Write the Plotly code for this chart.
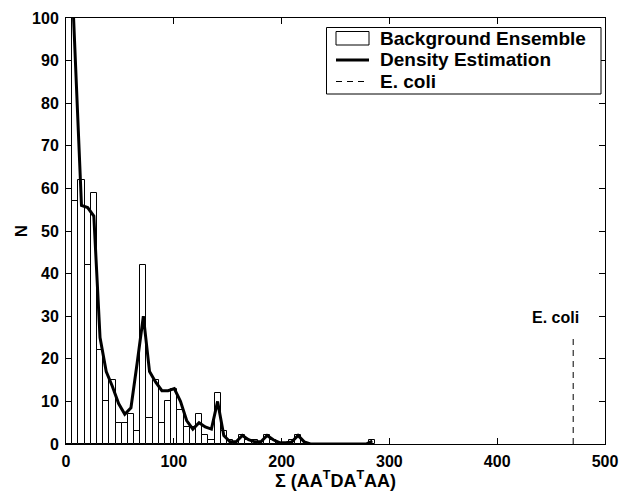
import plotly.graph_objects as go

# ---- data ----
hist_range = [0.0, 287.0]          # min / max of the background ensemble
n_bins = 50
bar_counts = [110, 57, 62, 42, 59, 22, 10, 15, 5, 5,
              7, 3, 42, 6, 15, 5, 10, 13, 8, 4,
              4, 7, 2, 1, 12, 3, 1, 0, 2, 1,
              1, 0, 2, 1, 0, 0, 1, 2, 0, 0,
              0, 0, 0, 0, 0, 0, 0, 0, 0, 1]
density_vals = [125, 90, 56, 55.5, 53.5, 25, 17, 13.5, 9.5, 7,
                8.5, 19, 30, 17, 14.5, 12.5, 12.5, 13, 10, 5.5,
                3.5, 5, 4, 3.5, 10, 2, 0.5, 0.5, 2, 1,
                0.5, 0.5, 2, 1, 0.3, 0.3, 0.5, 2, 0.5, 0,
                0, 0, 0, 0, 0, 0, 0, 0, 0, 0.7]
ecoli_value = 470.5
ecoli_height = 25
x_ticks = [0, 100, 200, 300, 400, 500]
y_ticks = [0, 10, 20, 30, 40, 50, 60, 70, 80, 90, 100]
legend_labels = ["Background Ensemble", "Density Estimation", "E. coli"]

bin_w = (hist_range[1] - hist_range[0]) / n_bins
bin_centers = [hist_range[0] + (i + 0.5) * bin_w for i in range(n_bins)]

FONT = "Liberation Sans, Arial, sans-serif"

# plot-area geometry (pixels) used to place the hand-drawn legend
L, R, T, B = 66, 605, 18, 444
W_PX, H_PX = 621, 491


def px(xp):
    return (xp - L) / (R - L)


def py(yp):
    return (B - yp) / (B - T)


fig = go.Figure()
fig.add_trace(go.Bar(
    x=bin_centers, y=bar_counts, width=bin_w,
    marker=dict(color="white", line=dict(color="black", width=1)),
    name=legend_labels[0], showlegend=False,
))
fig.add_trace(go.Scatter(
    x=bin_centers, y=density_vals, mode="lines",
    line=dict(color="black", width=3),
    name=legend_labels[1], showlegend=False,
))
fig.add_trace(go.Scatter(
    x=[ecoli_value, ecoli_value], y=[0, ecoli_height], mode="lines",
    line=dict(color="black", width=1, dash="6px,5px"),
    name=legend_labels[2], showlegend=False,
))
fig.add_annotation(
    x=ecoli_value, y=ecoli_height, text="E. coli", showarrow=False,
    xanchor="center", yanchor="middle", xshift=-18, yshift=20,
    font=dict(family=FONT, size=16, color="black", weight="bold"),
)

# ---- legend drawn by hand to match the reference box ----
shapes = [
    dict(type="rect", xref="paper", yref="paper",
         x0=px(326.5), x1=px(601), y0=py(94), y1=py(27.5),
         line=dict(color="black", width=1), fillcolor="white", layer="above"),
    dict(type="rect", xref="paper", yref="paper",
         x0=px(336), x1=px(369), y0=py(45), y1=py(31.5),
         line=dict(color="black", width=1), fillcolor="white", layer="above"),
    dict(type="line", xref="paper", yref="paper",
         x0=px(336), x1=px(369), y0=py(60), y1=py(60),
         line=dict(color="black", width=3), layer="above"),
    dict(type="line", xref="paper", yref="paper",
         x0=px(336), x1=px(369), y0=py(81.5), y1=py(81.5),
         line=dict(color="black", width=1, dash="6px,5px"), layer="above"),
]
row_y = [38.3, 60, 81.7]
for lab, yy in zip(legend_labels, row_y):
    fig.add_annotation(
        xref="paper", yref="paper", x=px(378), y=py(yy), text=lab,
        showarrow=False, xanchor="left", yanchor="middle",
        font=dict(family=FONT, size=19, color="black", weight="bold"),
    )

fig.update_layout(
    width=W_PX, height=H_PX,
    margin=dict(l=L, r=W_PX - R, t=T, b=H_PX - B, autoexpand=False),
    paper_bgcolor="white", plot_bgcolor="white",
    font=dict(family=FONT, size=16, color="black", weight="bold"),
    bargap=0,
    showlegend=False,
    shapes=shapes,
)
fig.update_xaxes(
    range=[0, 500], tickvals=x_ticks, ticks="inside", ticklen=6,
    tickcolor="black", showline=True, linecolor="black", linewidth=1,
    mirror="ticks", showgrid=False, zeroline=False, automargin=False,
    ticklabelstandoff=3,
    tickfont=dict(family=FONT, size=16, color="black", weight="bold"),
    title=dict(text="Σ (AA<sup>T</sup>DA<sup>T</sup>AA)", standoff=6,
               font=dict(family=FONT, size=18, color="black", weight="bold")),
)
fig.update_yaxes(
    range=[0, 100], tickvals=y_ticks, ticks="inside", ticklen=6,
    tickcolor="black", showline=True, linecolor="black", linewidth=1,
    mirror="ticks", showgrid=False, zeroline=False, automargin=False,
    ticklabelstandoff=3,
    tickfont=dict(family=FONT, size=16, color="black", weight="bold"),
    title=dict(text="N", standoff=0,
               font=dict(family=FONT, size=17, color="black", weight="bold")),
)

fig.write_html("out.html")
